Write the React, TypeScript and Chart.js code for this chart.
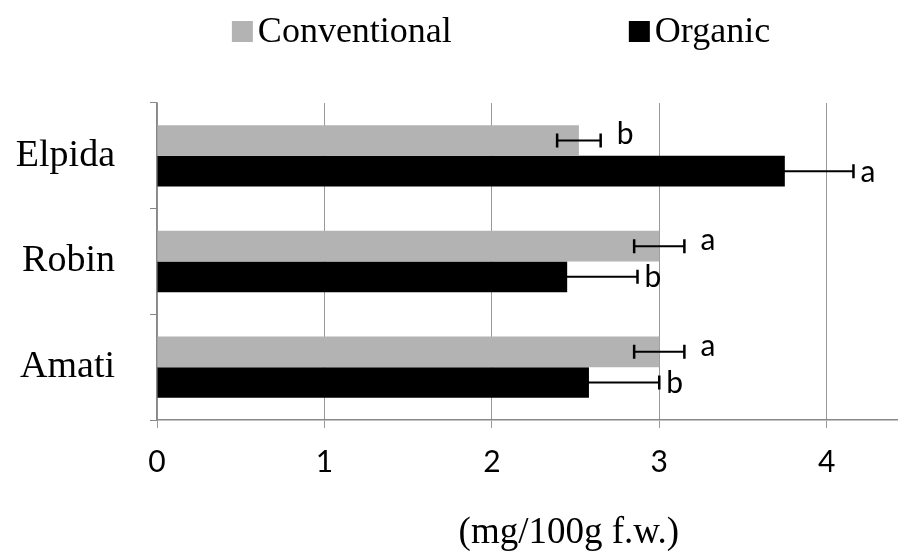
import React, { useEffect, useRef } from 'react';
import { Chart, registerables } from 'chart.js';

Chart.register(...registerables);

const categories = ['Elpida', 'Robin', 'Amati'];
const seriesNames = ['Conventional', 'Organic'];
const conventional = [2.52, 3.0, 3.0];
const conventionalErr = [0.13, 0.15, 0.15];
const organic = [3.75, 2.45, 2.58];
const organicErr = [0.41, 0.42, 0.42];
const conventionalLetters = ['b', 'a', 'a'];
const organicLetters = ['a', 'b', 'b'];
const xTicks = [0, 1, 2, 3, 4];
const axisTitle = '(mg/100g f.w.)';

const SERIF = '"Liberation Serif", "Times New Roman", serif';
const SANS = 'Lato, "Noto Sans", sans-serif';

const errorBarPlugin = {
  id: 'errorBars',
  afterDatasetsDraw(chart: any) {
    const { ctx } = chart;
    const xs = chart.scales.x;
    const errs = [conventionalErr, organicErr];
    const letters = [conventionalLetters, organicLetters];
    const gaps = [16, 7];
    const dy = [-6, 1];
    chart.data.datasets.forEach((ds: any, i: number) => {
      const meta = chart.getDatasetMeta(i);
      meta.data.forEach((el: any, j: number) => {
        const v = ds.data[j];
        const e = errs[i][j];
        const x1 = xs.getPixelForValue(v - e);
        const x2 = xs.getPixelForValue(v + e);
        const y = el.y;
        const cap = 7;
        ctx.save();
        ctx.strokeStyle = '#000';
        ctx.lineWidth = 2;
        ctx.beginPath();
        ctx.moveTo(x1, y);
        ctx.lineTo(x2, y);
        ctx.stroke();
        ctx.lineWidth = 2.5;
        ctx.beginPath();
        ctx.moveTo(x1, y - cap);
        ctx.lineTo(x1, y + cap);
        ctx.moveTo(x2, y - cap);
        ctx.lineTo(x2, y + cap);
        ctx.stroke();
        ctx.fillStyle = '#000';
        ctx.font = `30px ${SANS}`;
        ctx.textAlign = 'left';
        ctx.textBaseline = 'middle';
        ctx.fillText(letters[i][j], x2 + gaps[i], y + dy[i]);
        ctx.restore();
      });
    });
  },
};

const legendTitlePlugin = {
  id: 'legendTitle',
  afterDraw(chart: any) {
    const { ctx } = chart;
    const xs = chart.scales.x;
    ctx.save();
    // legend
    ctx.font = `36px ${SERIF}`;
    const box = 21;
    const textGap = 5;
    const itemGap = 177;
    const widths = chart.data.datasets.map((ds: any) => box + textGap + ctx.measureText(ds.label).width);
    const total = widths.reduce((a: number, b: number) => a + b, 0) + itemGap * (widths.length - 1);
    let x = 501 - total / 2;
    const baseline = 42;
    chart.data.datasets.forEach((ds: any, i: number) => {
      ctx.fillStyle = ds.backgroundColor;
      ctx.fillRect(x, baseline - box, box, box);
      ctx.fillStyle = '#000';
      ctx.textAlign = 'left';
      ctx.textBaseline = 'alphabetic';
      ctx.fillText(ds.label, x + box + textGap, baseline);
      x += widths[i] + itemGap;
    });
    // axis title
    ctx.font = `37px ${SERIF}`;
    ctx.textAlign = 'center';
    ctx.textBaseline = 'alphabetic';
    ctx.fillStyle = '#000';
    ctx.fillText(axisTitle, xs.getPixelForValue(2.46), 543);
    ctx.restore();
  },
};

export default function App() {
  const ref = useRef<HTMLCanvasElement>(null);
  useEffect(() => {
    if (!ref.current) return;
    const chart = new Chart(ref.current, {
      type: 'bar',
      data: {
        labels: categories,
        datasets: [
          {
            label: seriesNames[0],
            data: conventional,
            backgroundColor: '#b3b3b3',
            categoryPercentage: 0.58,
            barPercentage: 1,
          },
          {
            label: seriesNames[1],
            data: organic,
            backgroundColor: '#000000',
            categoryPercentage: 0.58,
            barPercentage: 1,
          },
        ],
      },
      options: {
        indexAxis: 'y',
        animation: false,
        responsive: true,
        maintainAspectRatio: false,
        layout: { padding: { top: 103, right: 2, left: 0, bottom: 0 } },
        plugins: {
          legend: { display: false },
          tooltip: { enabled: false },
        },
        scales: {
          x: {
            type: 'linear',
            min: 0,
            max: 4.42,
            afterBuildTicks: (s: any) => {
              s.ticks = xTicks.map((v) => ({ value: v }));
            },
            grid: { color: '#999', lineWidth: 1, tickLength: 8, drawTicks: true },
            border: { color: '#888', width: 1.5 },
            ticks: { font: { family: SANS, size: 30 }, color: '#000', padding: 16 },
            afterFit: (s: any) => {
              s.height = 131;
            },
          },
          y: {
            grid: { offset: true, drawOnChartArea: false, tickLength: 7, color: '#888' },
            border: { color: '#888', width: 1.5 },
            ticks: { font: { family: SERIF, size: 38 }, color: '#000', padding: 35 },
            afterFit: (s: any) => {
              s.width = 157;
            },
          },
        },
      },
      plugins: [errorBarPlugin, legendTitlePlugin],
    });
    return () => chart.destroy();
  }, []);
  return (
    <div style={{ position: 'absolute', left: 0, top: 0, width: 899, height: 551, background: '#fff' }}>
      <canvas ref={ref} />
    </div>
  );
}
